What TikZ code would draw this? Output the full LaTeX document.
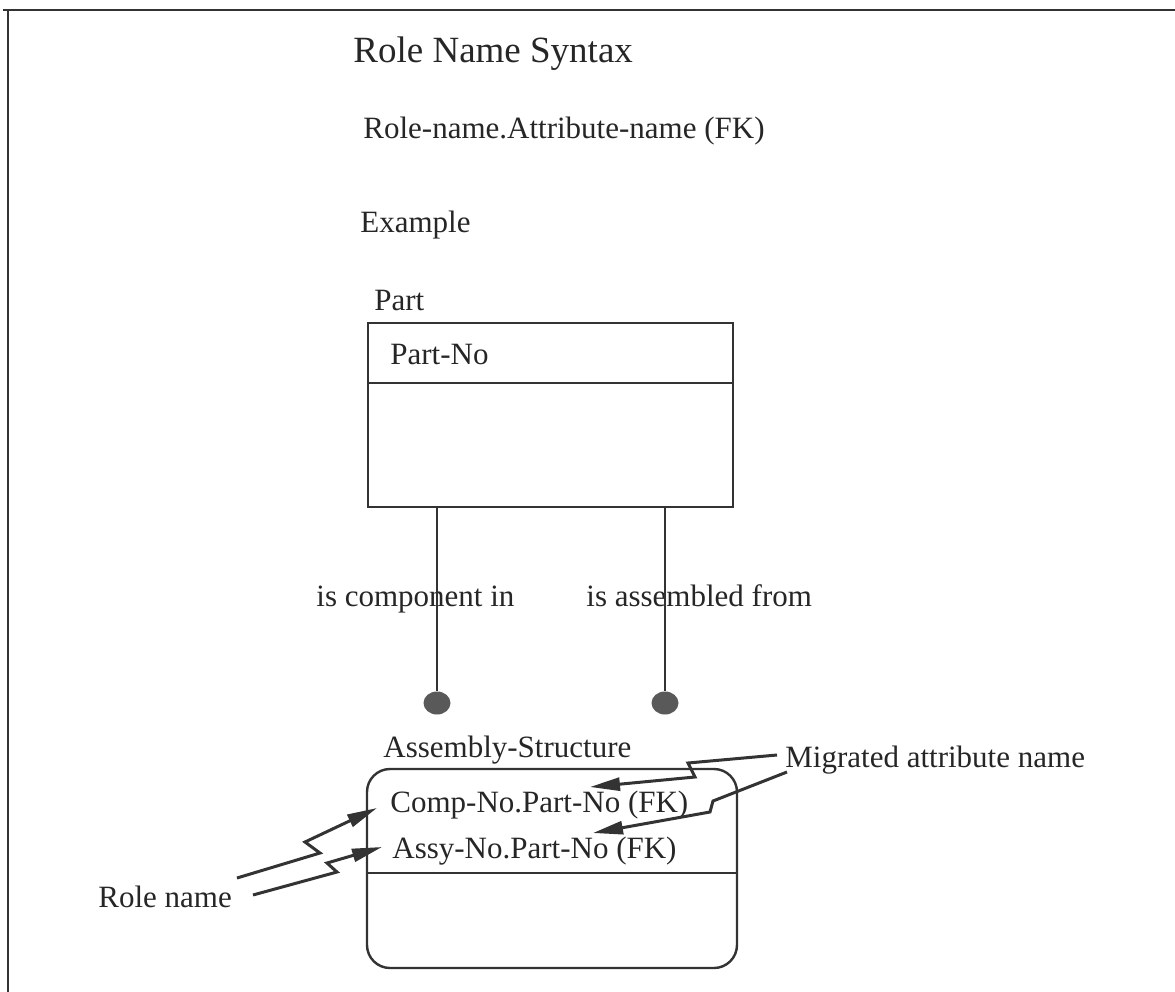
\documentclass[tikz,border=0pt]{standalone}
\usepackage{fontspec}
\setmainfont{Liberation Serif}
\usetikzlibrary{arrows.meta,shapes.geometric}

\begin{document}
\begin{tikzpicture}[x=0.5pt,y=-0.5pt]
      \useasboundingbox (0,0) rectangle (1175,992);
      \tikzset{T/.style = {anchor=base west, inner sep=0pt, text=black!85, font=\fontsize{15.5}{18}\selectfont}}
      \tikzset{B/.style = {draw=black!80, line width=1.2pt, inner sep=0pt}}
      \tikzset{E/.style = {draw=black!80, line width=1pt}}
      \tikzset{D/.style = {ellipse, fill=black!65, minimum width=13.5pt, minimum height=11.5pt, inner sep=0pt}}
      \tikzset{L/.style = {draw=black!80, line width=1.5pt, -{Triangle[length=15pt,width=6.5pt]}}}
      % frame
      \draw[black!80,line width=1.4pt] (3,10) -- (1175,10);
      \draw[black!80,line width=1.4pt] (8,10) -- (8,992);
      \node[T,font=\fontsize{18.5}{22}\selectfont](title) at (353,62) {Role Name Syntax};
      \node[T](syntax) at (363,138) {Role-name.Attribute-name (FK)};
      \node[T](example) at (360,232) {Example};
      % Part entity
      \node[T](partname) at (374,310) {Part};
      \node[B,minimum width=182.5pt,minimum height=92pt](part) at (550.5,415) {};
      \node[T](partno) at (390,364) {Part-No};
      \draw[B] (part.west |- 0,383) -- (part.east |- 0,383);
      \node[T](comp) at (316,606) {is component in};
      \node[T](assy) at (586,606) {is assembled from};
      \node[D](d0) at (437,703) {};
      \node[D](d1) at (665,703) {};
      \draw[E](part.south -| d0) to (d0);
      \draw[E](part.south -| d1) to (d1);
      % Assembly-Structure entity
      \node[T](asname) at (383,757) {Assembly-Structure};
      \node[B,rounded corners=11.5pt,minimum width=185pt,minimum height=99.5pt](asbox) at (552,868.5) {};
      \draw[B] (asbox.west |- 0,873) -- (asbox.east |- 0,873);
      \node[T](compno) at (390,812) {Comp-No.Part-No (FK)};
      \node[T](assyno) at (392,858) {Assy-No.Part-No (FK)};
      % callouts
      \node[T](role) at (98,907) {Role name};
      \node[T](migr) at (785,767) {Migrated attribute name};
      \coordinate (r0s) at (237,878);
      \coordinate (r0t) at (377,808);
      \coordinate (r1s) at (253,895);
      \coordinate (r1t) at (382,847);
      \coordinate (m0s) at (777,755);
      \coordinate (m0t) at (590,787);
      \coordinate (m1s) at (787,772);
      \coordinate (m1t) at (593,833);
      \draw[L](r0s) -- (320,853) -- (305,842) -- (r0t);
      \draw[L](r1s) -- (337,872) -- (327,863) -- (r1t);
      \draw[L](m0s) -- (688,763) -- (695,777) -- (m0t);
      \draw[L](m1s) -- (713,801) -- (710,812) -- (m1t);
    \end{tikzpicture}
\end{document}
